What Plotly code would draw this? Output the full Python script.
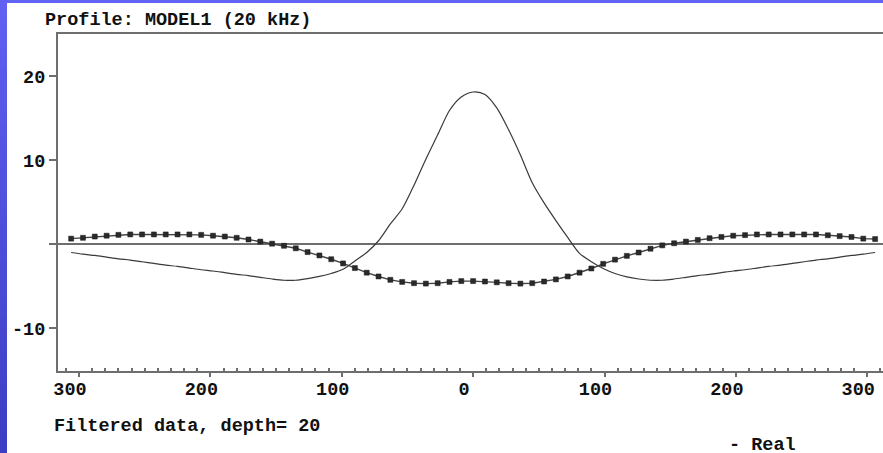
import plotly.graph_objects as go

# Station offsets (m) along the profile
distance = [-306 + 9 * i for i in range(69)]

# In-phase (real) response, plotted with square markers
real = [0.65, 0.75, 0.9, 1.0, 1.1, 1.15, 1.15, 1.15, 1.15, 1.15,
        1.15, 1.1, 1.0, 0.9, 0.75, 0.55, 0.3, 0.05, -0.2, -0.5,
        -0.95, -1.35, -1.8, -2.3, -2.85, -3.4, -3.85, -4.25, -4.5, -4.65,
        -4.7, -4.65, -4.5, -4.4, -4.4, -4.45, -4.55, -4.65, -4.7, -4.65,
        -4.45, -4.2, -3.85, -3.4, -2.9, -2.35, -1.85, -1.4, -1.0, -0.55,
        -0.15, 0.1, 0.3, 0.5, 0.7, 0.85, 1.0, 1.07, 1.15, 1.15,
        1.15, 1.15, 1.15, 1.15, 1.05, 0.95, 0.85, 0.65, 0.6]

# Filtered profile with the central anomaly
filtered = [-1.0, -1.2, -1.35, -1.55, -1.75, -1.9, -2.1, -2.3, -2.5, -2.65,
            -2.85, -3.05, -3.2, -3.4, -3.6, -3.75, -3.95, -4.15, -4.3, -4.3,
            -4.1, -3.85, -3.5, -3.0, -2.0, -1.0, 0.4, 2.4, 4.2, 7.0,
            10.1, 13.0, 15.9, 17.5, 18.1, 17.8, 16.2, 13.6, 10.6, 7.3,
            4.9, 2.8, 0.8, -1.1, -2.1, -2.9, -3.5, -3.9, -4.15, -4.3,
            -4.3, -4.15, -3.95, -3.75, -3.6, -3.4, -3.2, -3.05, -2.85, -2.65,
            -2.5, -2.3, -2.1, -1.9, -1.75, -1.55, -1.35, -1.2, -1.0]

x_ticks = [-300, -200, -100, 0, 100, 200, 300]
x_ticktext = ["300", "200", "100", "0", "100", "200", "300"]
y_ticks = [-10, 0, 10, 20]
y_ticktext = ["-10", "", "10", "20"]

W, H = 883, 453
L, R, T, B = 58, 0, 34, 82
PW, PH = W - L - R, H - T - B
FONT = "Liberation Mono"
TXT = dict(family=FONT, size=18.5, color="#111111", weight="bold")
AXIS = "#6e6e6e"


def px_x(px):
    return (px - L) / PW


def px_y(py):
    return (H - B - py) / PH


fig = go.Figure()

fig.add_trace(go.Scatter(
    x=distance, y=filtered, mode="lines",
    line=dict(color="#3a3a3a", width=1.2, shape="spline", smoothing=0.8),
    showlegend=False,
))
fig.add_trace(go.Scatter(
    x=distance, y=real, mode="lines+markers",
    line=dict(color="#444444", width=1.4),
    marker=dict(symbol="square", size=5, color="#2a2a2a",
                line=dict(color="#1a1a1a", width=0.5)),
    showlegend=False,
))

# Blue frame: gradient strip on the left, flat strip on top
shapes = []
n_bands = 40
for i in range(n_bands):
    f = i / (n_bands - 1)
    r = int(96 + (62 - 96) * f)
    g = int(96 + (62 - 96) * f)
    b = int(242 + (196 - 242) * f)
    y0 = H * i / n_bands
    y1 = H * (i + 1) / n_bands + 1
    shapes.append(dict(
        type="rect", xref="paper", yref="paper", layer="above",
        x0=px_x(0), x1=px_x(7), y0=px_y(y1), y1=px_y(y0),
        fillcolor=f"rgb({r},{g},{b})", line=dict(width=0),
    ))
shapes.append(dict(
    type="rect", xref="paper", yref="paper", layer="above",
    x0=px_x(7), x1=px_x(W), y0=px_y(3), y1=px_y(0),
    fillcolor="rgb(98,98,245)", line=dict(width=0),
))

annotations = [
    dict(text="Profile: MODEL1 (20 kHz)", x=px_x(43), y=px_y(21),
         xref="paper", yref="paper", xanchor="left", yanchor="middle",
         showarrow=False, font=TXT),
    dict(text="Filtered data, depth= 20", x=px_x(52), y=px_y(426),
         xref="paper", yref="paper", xanchor="left", yanchor="middle",
         showarrow=False, font=TXT),
    dict(text="- Real", x=px_x(727), y=px_y(445),
         xref="paper", yref="paper", xanchor="left", yanchor="middle",
         showarrow=False, font=TXT),
]

minor_x = [v for v in range(-310, 320, 10) if v % 100 != 0]

fig.update_layout(
    width=W, height=H,
    margin=dict(l=L, r=R, t=T, b=B, pad=0),
    paper_bgcolor="white", plot_bgcolor="white",
    shapes=shapes, annotations=annotations,
    font=TXT,
    xaxis=dict(
        range=[-316, 312], tickmode="array", tickvals=x_ticks,
        ticktext=x_ticktext, ticks="outside", ticklen=4, tickwidth=1.5,
        tickcolor=AXIS, showgrid=False, zeroline=False,
        showline=True, linecolor=AXIS, linewidth=2, mirror=True,
        tickfont=TXT, ticklabeloverflow="allow", ticklabelstandoff=-4,
        ticklabelshift=-9,
        minor=dict(tickmode="array", tickvals=minor_x, ticks="inside",
                   ticklen=3, tickcolor=AXIS, tickwidth=1.5, showgrid=False),
    ),
    yaxis=dict(
        range=[-15.1, 25], tickmode="array", tickvals=y_ticks,
        ticktext=y_ticktext, ticks="outside", ticklen=7, tickwidth=1.5,
        tickcolor=AXIS, showgrid=False,
        zeroline=True, zerolinecolor=AXIS, zerolinewidth=1.5,
        showline=True, linecolor=AXIS, linewidth=2,
        tickfont=TXT, ticklabeloverflow="allow",
    ),
)

fig.write_html("out.html")
